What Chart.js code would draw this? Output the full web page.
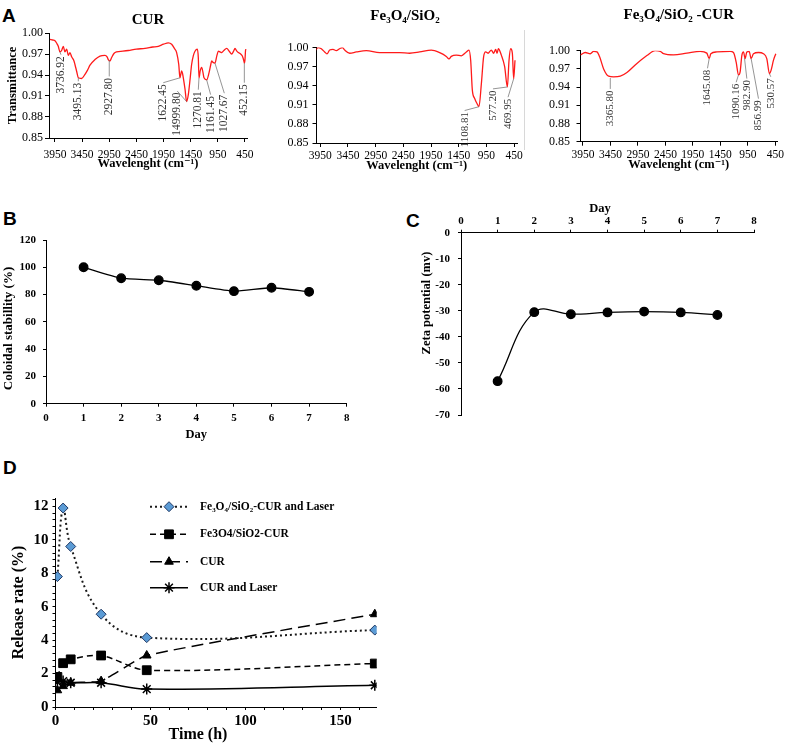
<!DOCTYPE html>
<html><head><meta charset="utf-8">
<script src="https://cdn.jsdelivr.net/npm/chart.js@4.4.1/dist/chart.umd.min.js"></script>
<style>
html,body{margin:0;padding:0;background:#fff;}
body{width:787px;height:746px;position:relative;overflow:hidden;}
canvas{position:absolute;}
.lbl{position:absolute;font:bold 19px "Liberation Sans",Arial,sans-serif;color:#000;line-height:1;}
.sep{position:absolute;width:1px;background:#d8d8d8;}
</style></head><body>
<div class="lbl" style="left:2px;top:5.5px">A</div>
<div class="lbl" style="left:3px;top:208.5px">B</div>
<div class="lbl" style="left:406px;top:210.5px">C</div>
<div class="lbl" style="left:3px;top:457.5px">D</div>
<div class="sep" style="left:524px;top:30px;height:120px"></div>
<canvas id="a1" width="262" height="172" style="left:0;top:0"></canvas>
<canvas id="a2" width="263" height="172" style="left:262px;top:0"></canvas>
<canvas id="a3" width="262" height="172" style="left:525px;top:0"></canvas>
<canvas id="b" width="400" height="255" style="left:0;top:195px"></canvas>
<canvas id="c" width="387" height="235" style="left:400px;top:195px"></canvas>
<canvas id="d" width="400" height="261" style="left:0;top:485px"></canvas>
<script>
// ================= DATA =================
// Panel A – FTIR spectra (wavenumber cm-1, transmittance)
const wnTickLabels = [3950, 3450, 2950, 2450, 1950, 1450, 950, 450];
const trTickLabels = [0.85, 0.88, 0.91, 0.94, 0.97, 1.00];

const curWn = [4042,3990,3950,3915,3889,3858,3827,3797,3766,3735,3704,3674,3643,3600,3582,3550,3520,3459,3397,3350,3305,3213,3121,3029,2990,2968,2937,2906,2860,2814,2700,2599,2450,2292,2150,2047,1950,1862,1801,1750,1709,1670,1648,1630,1617,1600,1586,1555,1525,1494,1460,1433,1400,1371,1328,1310,1297,1275,1248,1225,1205,1156,1113,1080,1064,1040,1003,970,941,910,880,840,788,740,696,660,634,600,573,530,499,470,462,450,440,432];
const curT  = [0.991,0.990,0.989,0.985,0.981,0.973,0.975,0.981,0.973,0.977,0.968,0.972,0.966,0.960,0.955,0.945,0.936,0.935,0.941,0.947,0.954,0.962,0.967,0.968,0.966,0.962,0.960,0.965,0.971,0.973,0.974,0.975,0.977,0.978,0.980,0.981,0.984,0.986,0.984,0.978,0.972,0.955,0.936,0.942,0.946,0.942,0.936,0.920,0.902,0.912,0.935,0.955,0.968,0.974,0.977,0.965,0.936,0.946,0.951,0.944,0.936,0.933,0.943,0.955,0.960,0.958,0.957,0.967,0.974,0.973,0.972,0.975,0.978,0.974,0.970,0.974,0.978,0.974,0.972,0.970,0.967,0.960,0.957,0.962,0.975,0.977];
const curPeakText = ['3736.92','3495.13','2927.80','1622.45','14999.80','1270.81','1161.45','1027.67','452.15'];
const curPeakWn   = [3858, 3520, 2950, 1648, 1525, 1297, 1156, 1003, 462];
const curPeakT    = [0.973, 0.936, 0.961, 0.936, 0.902, 0.936, 0.933, 0.957, 0.957];

const fsWn = [4034,3992,3932,3872,3830,3781,3721,3661,3601,3552,3510,3420,3299,3119,2878,2516,2336,2155,1944,1793,1673,1625,1583,1492,1402,1312,1263,1233,1203,1161,1119,1083,1040,1000,962,920,860,818,781,757,733,679,619,570,540,510,480,456,432];
const fsT  = [0.996,1.000,0.998,0.993,0.990,0.996,0.997,0.995,0.998,1.000,0.996,0.991,0.993,0.995,0.992,0.992,0.991,0.993,0.996,0.992,0.986,0.982,0.986,0.988,0.987,0.993,0.996,0.980,0.933,0.920,0.912,0.907,0.943,0.985,0.993,0.991,0.996,0.991,0.997,0.991,0.998,0.988,0.970,0.938,0.980,0.998,0.991,0.951,0.980];
const fsPeakText = ['1108.81','577.20','469.95'];
const fsPeakWn   = [1083, 570, 456];
const fsPeakT    = [0.907, 0.938, 0.951];

const fcWn = [3998,3908,3817,3756,3695,3647,3574,3483,3392,3271,3150,2968,2787,2635,2544,2483,2302,2059,1817,1696,1653,1623,1514,1271,1211,1162,1120,1090,1059,1029,999,968,926,890,847,756,665,605,556,526,484,441];
const fcT  = [0.993,0.997,0.995,0.999,0.998,0.990,0.970,0.958,0.957,0.958,0.964,0.979,0.992,1.000,0.999,0.995,0.993,0.996,0.999,0.996,0.987,0.995,0.998,0.999,0.997,0.981,0.960,0.965,0.992,0.998,0.987,0.998,0.999,0.987,0.995,0.997,0.995,0.987,0.962,0.968,0.984,0.995];
const fcPeakText = ['3365.80','1645.08','1090.16','982.90','856.99','530.57'];
const fcPeakWn   = [3453, 1653, 1120, 1011, 890, 556];
const fcPeakT    = [0.955, 0.987, 0.960, 0.988, 0.987, 0.962];

// Panel B – colloidal stability
const bDays = [1, 2, 3, 4, 5, 6, 7];
const bStability = [100, 92, 90.5, 86.5, 82.5, 85, 82];

// Panel C – zeta potential
const cDays = [1, 2, 3, 4, 5, 6, 7];
const cZeta = [-57, -30.5, -31.3, -30.6, -30.3, -30.6, -31.6];

// Panel D – release rate
const dTime = [1, 4, 8, 24, 48, 168];
const dFeCurLaser = [7.8, 11.9, 9.6, 5.55, 4.15, 4.6];
const dFeCur      = [1.8, 2.62, 2.85, 3.08, 2.2, 2.6];
const dCur        = [1.0, 1.25, 1.45, 1.55, 3.08, 5.55];
const dCurLaser   = [1.5, 1.55, 1.45, 1.45, 1.07, 1.3];
const dSeriesNames = ['Fe\u2083O\u2084/SiO\u2082-CUR and Laser', 'Fe3O4/SiO2-CUR', 'CUR', 'CUR and Laser'];
const dXLabels = [0, 50, 100, 150];
const dYLabels = [0, 2, 4, 6, 8, 10, 12];

// ================= RENDERING =================
const SERIF = '"Liberation Serif", "Times New Roman", "DejaVu Serif", serif';
Chart.defaults.font.family = SERIF;
Chart.defaults.color = '#000';
Chart.defaults.animation = false;

const peakPlugin = {
  id: 'peakLabels',
  afterDatasetsDraw(chart, args, o) {
    const {ctx, scales: {x, y}} = chart;
    ctx.save();
    ctx.font = (o.size || 11) + 'px ' + SERIF;
    ctx.fillStyle = '#333'; ctx.strokeStyle = '#7a7a7a'; ctx.lineWidth = 0.8;
    o.text.forEach((t, i) => {
      const px = x.getPixelForValue(o.wn[i]), py = y.getPixelForValue(o.tr[i]);
      const lx = x.getPixelForValue(o.at[i][0]), ly = y.getPixelForValue(o.at[i][1]);
      ctx.beginPath(); ctx.moveTo(px, py); ctx.lineTo(lx, ly); ctx.stroke();
      ctx.save(); ctx.translate(lx, ly + 1.5); ctx.rotate(-Math.PI / 2);
      ctx.textAlign = 'right'; ctx.textBaseline = 'middle'; ctx.fillText(t, 0, 0);
      ctx.restore();
    });
    ctx.restore();
  }
};

const freeText = {
  id: 'freeText',
  afterDraw(chart, args, o) {
    const ctx = chart.ctx;
    (o.items || []).forEach(it => {
      ctx.save(); ctx.translate(it.x, it.y); ctx.rotate(it.rot || 0);
      ctx.font = it.font; ctx.fillStyle = '#000'; ctx.textAlign = 'center'; ctx.textBaseline = 'middle';
      ctx.fillText(it.text, 0, 0); ctx.restore();
    });
  }
};

const lineLegend = {
  id: 'lineLegend',
  afterDraw(chart, args, o) {
    const ctx = chart.ctx;
    chart.data.datasets.forEach((ds, i) => {
      const y = o.ys[i];
      ctx.save();
      ctx.strokeStyle = ds.borderColor; ctx.lineWidth = ds.borderWidth; ctx.setLineDash(ds.borderDash || []);
      ctx.beginPath(); ctx.moveTo(o.x0, y); ctx.lineTo(o.x1, y); ctx.stroke();
      ctx.setLineDash([]);
      ctx.fillStyle = ds.pointBackgroundColor; ctx.strokeStyle = ds.pointBorderColor; ctx.lineWidth = ds.pointBorderWidth;
      Chart.helpers.drawPoint(ctx, {pointStyle: ds.pointStyle, radius: ds.pointRadius, rotation: 0, borderWidth: ds.pointBorderWidth}, (o.x0 + o.x1) / 2, y);
      ctx.fillStyle = '#000'; ctx.font = o.font; ctx.textAlign = 'left'; ctx.textBaseline = 'middle';
      ctx.fillText(ds.label, o.textX, y);
      ctx.restore();
    });
  }
};

function gridOpts(len) {
  return {display: true, drawOnChartArea: false, drawTicks: true, tickLength: len, color: '#000', lineWidth: 1};
}
const borderOpts = {display: true, color: '#000', width: 1};

function spectrum(id, wn, tr, c) {
  const pts = wn.map((v, i) => ({x: v, y: tr[i]}));
  return new Chart(document.getElementById(id), {
    type: 'line',
    data: {datasets: [{data: pts, borderColor: '#ff1a1a', borderWidth: 1.3, pointRadius: 0, cubicInterpolationMode: 'monotone', fill: false}]},
    options: {
      responsive: false, animation: false, events: [],
      layout: {padding: c.pad},
      plugins: {
        legend: {display: false}, tooltip: {enabled: false},
        title: c.titlePad ? {display: true, text: c.title, fullSize: false, color: '#000',
          font: {size: 15, weight: 'bold', lineHeight: 1}, padding: c.titlePad} : {display: false},
        freeText: {items: c.freeTitle ? [c.freeTitle] : []},
        peakLabels: c.peaks
      },
      scales: {
        x: {type: 'linear', reverse: true, min: c.xmin, max: c.xmax,
          afterBuildTicks: s => { s.ticks = wnTickLabels.map(v => ({value: v})); },
          afterFit: s => { s.height = c.xh; },
          ticks: {autoSkip: false, maxRotation: 0, padding: c.xpad, font: {size: 11.5}, callback: v => String(v)},
          grid: gridOpts(4), border: borderOpts,
          title: {display: true, text: 'Wavelenght (cm\u207B\u00B9)', color: '#000',
            font: {size: 12.5, weight: 'bold', lineHeight: 1}, padding: {top: 0, bottom: c.xtPad}}
        },
        y: {type: 'linear', min: 0.85, max: 1.0,
          afterBuildTicks: s => { s.ticks = trTickLabels.map(v => ({value: v})); },
          afterFit: s => { s.width = c.yw; },
          ticks: {padding: c.ypad, font: {size: 12}, callback: v => Number(v).toFixed(2)},
          grid: gridOpts(4), border: borderOpts,
          title: c.ytitle ? {display: true, text: c.ytitle, color: '#000', font: {size: 12.5, weight: 'bold', lineHeight: 1}, padding: {top: 4.25, bottom: 0}} : {display: false}
        }
      }
    },
    plugins: [peakPlugin, freeText]
  });
}

spectrum('a1', curWn, curT, {
  title: 'CUR', titlePad: {top: 12.5, bottom: 5.5},
  pad: {left: 2, right: 15, top: 0, bottom: 0},
  xmin: 413, xmax: 4060, xh: 34, xpad: 6, xtPad: 1.75, yw: 47, ypad: 2, ytitle: 'Transmittance',
  peaks: {text: curPeakText, wn: curPeakWn, tr: curPeakT, size: 11.5,
    at: [[3840, 0.969], [3520, 0.931], [2950, 0.938], [1955, 0.929], [1697, 0.917], [1310, 0.919], [1083, 0.912], [831, 0.914], [462, 0.929]]}
});
spectrum('a2', fsWn, fsT, {
  title: 'Fe\u2083O\u2084/SiO\u2082', titlePad: null,
  freeTitle: {text: 'Fe\u2083O\u2084/SiO\u2082', x: 143, y: 16, rot: 0, font: 'bold 15px ' + SERIF},
  pad: {left: 0, right: 8, top: 47.5, bottom: 0},
  xmin: 396, xmax: 4019, xh: 29, xpad: 1.7, xtPad: 0, yw: 54.5, ypad: 4, ytitle: null,
  peaks: {text: fsPeakText, wn: fsPeakWn, tr: fsPeakT, size: 11,
    at: [[1342, 0.901], [830, 0.935], [558, 0.922]]}
});
spectrum('a3', fcWn, fcT, {
  title: 'Fe\u2083O\u2084/SiO\u2082 -CUR', titlePad: {top: 7.5, bottom: 28.2},
  pad: {left: 0, right: 10, top: 0, bottom: 0},
  xmin: 419, xmax: 3995, xh: 30.3, xpad: 2.7, xtPad: 0.75, yw: 55.5, ypad: 6.5, ytitle: null,
  peaks: {text: fcPeakText, wn: fcPeakWn, tr: fcPeakT, size: 11,
    at: [[3453, 0.937], [1684, 0.971], [1162, 0.948], [968, 0.954], [756, 0.921], [532, 0.957]]}
});

// ----- Panel B -----
new Chart(document.getElementById('b'), {
  type: 'line',
  data: {datasets: [{data: bDays.map((d, i) => ({x: d, y: bStability[i]})), borderColor: '#000', borderWidth: 1.3,
    pointRadius: 4.3, pointBackgroundColor: '#000', pointBorderColor: '#000', tension: 0.2, fill: false}]},
  options: {
    responsive: false, animation: false, events: [],
    layout: {padding: {left: 0, right: 53.3, top: 45, bottom: 0}},
    plugins: {legend: {display: false}, tooltip: {enabled: false},
      freeText: {items: [{text: 'Coloidal stabillity (%)', x: 8.5, y: 133.5, rot: -Math.PI / 2, font: 'bold 13px ' + SERIF}]}},
    scales: {
      x: {type: 'linear', min: 0, max: 8, afterFit: s => { s.height = 46.3; },
        ticks: {stepSize: 1, padding: 5, font: {size: 11, weight: 'bold'}},
        grid: gridOpts(3), border: borderOpts,
        title: {display: true, text: 'Day', color: '#000', font: {size: 12.5, weight: 'bold', lineHeight: 1}, padding: {top: 0, bottom: 8.75}}},
      y: {type: 'linear', min: 0, max: 120, afterFit: s => { s.width = 46; },
        ticks: {stepSize: 20, padding: 7, font: {size: 11, weight: 'bold'}},
        grid: gridOpts(3), border: borderOpts}
    }
  },
  plugins: [freeText]
});

// ----- Panel C -----
new Chart(document.getElementById('c'), {
  type: 'line',
  data: {datasets: [{data: cDays.map((d, i) => ({x: d, y: cZeta[i]})), borderColor: '#000', borderWidth: 1.3,
    pointRadius: 4.3, pointBackgroundColor: '#000', pointBorderColor: '#000', tension: 0.4, fill: false}]},
  options: {
    responsive: false, animation: false, events: [],
    layout: {padding: {left: 0, right: 33, top: 0, bottom: 15}},
    plugins: {legend: {display: false}, tooltip: {enabled: false},
      freeText: {items: [
        {text: 'Day', x: 200, y: 13.3, rot: 0, font: 'bold 12.5px ' + SERIF},
        {text: 'Zeta potential (mv)', x: 26.7, y: 108, rot: -Math.PI / 2, font: 'bold 12.5px ' + SERIF}]}},
    scales: {
      x: {type: 'linear', position: 'top', min: 0, max: 8, afterFit: s => { s.height = 37.7; },
        ticks: {stepSize: 1, padding: 2.4, font: {size: 11, weight: 'bold'}},
        grid: gridOpts(3), border: borderOpts},
      y: {type: 'linear', min: -70, max: 0, afterFit: s => { s.width = 61; },
        ticks: {stepSize: 10, padding: 8, font: {size: 11, weight: 'bold'}},
        grid: gridOpts(3), border: borderOpts}
    }
  },
  plugins: [freeText]
});

// ----- Panel D -----
function dPts(vals) { return dTime.map((t, i) => ({x: t, y: vals[i]})); }
new Chart(document.getElementById('d'), {
  type: 'line',
  data: {datasets: [
    {label: dSeriesNames[0], data: dPts(dFeCurLaser), borderColor: '#1a1a1a', borderWidth: 2, borderDash: [2, 3], tension: 0.4,
      pointStyle: 'rectRot', pointRadius: 5, pointBackgroundColor: '#5b9bd5', pointBorderColor: '#1f3864', pointBorderWidth: 1, fill: false},
    {label: dSeriesNames[1], data: dPts(dFeCur), borderColor: '#000', borderWidth: 1.5, borderDash: [6, 4], tension: 0.3,
      pointStyle: 'rect', pointRadius: 6.2, pointBackgroundColor: '#000', pointBorderColor: '#000', pointBorderWidth: 1, fill: false},
    {label: dSeriesNames[2], data: dPts(dCur), borderColor: '#000', borderWidth: 1.5, borderDash: [12, 6], tension: 0.15,
      pointStyle: 'triangle', pointRadius: 5, pointBackgroundColor: '#000', pointBorderColor: '#000', pointBorderWidth: 1, fill: false},
    {label: dSeriesNames[3], data: dPts(dCurLaser), borderColor: '#000', borderWidth: 1.5, tension: 0.4,
      pointStyle: 'star', pointRadius: 5.5, pointBackgroundColor: '#000', pointBorderColor: '#000', pointBorderWidth: 1.5, fill: false}
  ]},
  options: {
    responsive: false, animation: false, events: [],
    layout: {padding: {left: 0, right: 23.3, top: 12, bottom: 0}},
    plugins: {legend: {display: false}, tooltip: {enabled: false},
      lineLegend: {x0: 150, x1: 188, textX: 200, ys: [21.7, 49.3, 76.7, 102.7], font: 'bold 11.5px ' + SERIF},
      freeText: {items: [{text: 'Time (h)', x: 198, y: 250, rot: 0, font: 'bold 16px ' + SERIF}]}},
    scales: {
      x: {type: 'linear', min: 0, max: 169, afterFit: s => { s.height = 39; },
        afterBuildTicks: s => { const t = []; for (let v = 0; v <= 160; v += 10) t.push({value: v}); s.ticks = t; },
        ticks: {autoSkip: false, maxRotation: 0, padding: 2, font: {size: 15, weight: 'bold'},
          callback: v => dXLabels.includes(v) ? String(v) : ''},
        grid: gridOpts(3), border: borderOpts},
      y: {type: 'linear', min: 0, max: 12.5, afterFit: s => { s.width = 55.5; },
        afterBuildTicks: s => { const t = []; for (let i = 0; i <= 31; i++) t.push({value: Math.round(i * 4) / 10}); s.ticks = t; },
        ticks: {autoSkip: false, padding: 4, font: {size: 15, weight: 'bold'},
          callback: v => dYLabels.includes(v) ? String(v) : ''},
        grid: gridOpts(3), border: borderOpts,
        title: {display: true, text: 'Release rate (%)', color: '#000', font: {size: 16, weight: 'bold', lineHeight: 1}, padding: {top: 11, bottom: 0}}}
    }
  },
  plugins: [lineLegend, freeText]
});
</script>
</body></html>
